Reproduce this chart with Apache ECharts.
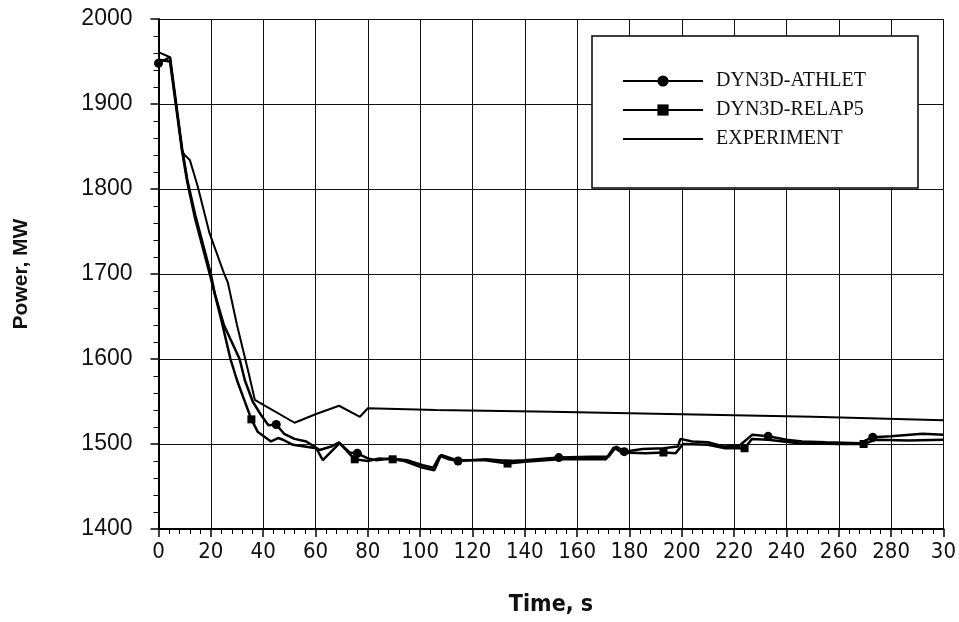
<!DOCTYPE html>
<html>
<head>
<meta charset="utf-8">
<script src="https://cdn.jsdelivr.net/npm/echarts@6/dist/echarts.min.js"></script>
<style>
html,body{margin:0;padding:0;background:#fff;}
#main{width:959px;height:622px;}
</style>
</head>
<body>
<div id="main"></div>
<script>
// DYN3D-ATHLET  (time s, power MW)
var athletT = [0, 4.4, 9, 11, 14, 20, 21.5, 25, 31, 33, 36, 39, 42, 45, 48, 52, 56.5, 61.6, 66, 69, 73, 76, 80, 83, 89, 95, 101, 105, 107.5, 111, 114.5, 125, 134, 140, 153, 165, 172, 175, 178, 185, 193, 198.5, 199.5, 204, 210, 216, 222, 227, 233, 240, 246, 255, 268, 273, 280, 292, 300];
var athletP = [1948, 1955, 1848, 1811, 1770, 1700, 1677, 1640, 1600, 1575, 1550, 1535, 1522, 1523, 1512, 1506, 1503, 1493, 1497, 1502, 1490, 1489, 1483, 1481, 1483, 1481, 1475, 1472, 1486, 1482, 1480, 1482, 1480, 1481, 1484, 1485, 1485, 1497, 1491, 1494, 1495, 1497, 1506, 1503, 1502, 1497, 1498, 1511, 1509, 1505, 1503, 1502, 1501, 1508, 1509, 1512, 1511];
var athletMarks = [0, 45, 76, 114.5, 153, 178, 233, 273];

// DYN3D-RELAP5
var relapT = [0, 4.4, 9, 11, 14, 20, 24, 27.5, 30, 35.5, 38, 43, 45.7, 47.6, 51.4, 60.3, 62.8, 69.2, 75, 80, 84.4, 89.5, 94, 100, 105.4, 108, 114, 125, 133.4, 140, 153, 171, 174, 177, 186, 193, 197.6, 200.5, 210, 216.6, 224, 226.8, 233, 244.6, 260, 269.5, 274, 286.5, 300];
var relapP = [1952, 1950, 1845, 1808, 1765, 1695, 1646, 1600, 1575, 1529, 1514, 1503, 1507, 1505, 1499, 1495, 1481, 1501, 1482, 1480, 1483, 1482, 1480, 1473, 1469, 1487, 1481, 1481, 1477, 1479, 1482, 1482, 1496, 1490, 1489, 1490, 1489, 1500, 1499, 1495, 1495, 1506, 1505, 1501, 1500, 1500, 1505, 1504, 1505];
var relapMarks = [35.5, 75, 89.5, 133.4, 193, 224, 269.5];

// EXPERIMENT
var expT = [0, 4.4, 9, 10, 12, 15, 19.5, 25, 26.5, 30, 34.5, 36.8, 52, 60, 69, 77, 80, 106, 150, 200, 250, 300];
var expP = [1961, 1955, 1845, 1840, 1834, 1803, 1748, 1701, 1690, 1640, 1583, 1552, 1525, 1535, 1545, 1532, 1542, 1540, 1538, 1535, 1532, 1528];

var seriesNames = ['DYN3D-ATHLET', 'DYN3D-RELAP5', 'EXPERIMENT'];

function buildData(ts, ps, marks){
	var d = [];
	for (var i = 0; i < ts.length; i++) {
		var item = {value: [ts[i], ps[i]]};
		if (marks.indexOf(ts[i]) < 0) item.symbol = 'none';
		d.push(item);
	}
	return d;
}

var narrow = 'Liberation Sans Narrow, DejaVu Sans Condensed, Liberation Sans';

var myChart = echarts.init(document.getElementById('main'));
var option = {
	backgroundColor: '#fff',
	animation: false,
	grid: {left: 158.5, right: 13.5, top: 19, bottom: 93},
	legend: {
		orient: 'vertical',
		left: 617,
		top: 66,
		z: 10,
		itemWidth: 80,
		itemHeight: 14,
		itemGap: 9,
		textStyle: {fontFamily: 'Liberation Serif', fontSize: 20, color: '#111', padding: [0, 0, 0, 8]},
		data: [
			{name: seriesNames[0]},
			{name: seriesNames[1]},
			{name: seriesNames[2], itemStyle: {opacity: 0}}
		]
	},
	graphic: [{
		type: 'rect',
		z: 4,
		shape: {x: 592, y: 36, width: 326, height: 152},
		style: {fill: '#fff', stroke: '#000', lineWidth: 1.5}
	}],
	xAxis: {
		type: 'value',
		min: 0, max: 300, interval: 20,
		name: 'Time, s',
		nameLocation: 'middle',
		nameGap: 65,
		nameTextStyle: {fontFamily: narrow, fontSize: 23, fontWeight: 'bold', color: '#111'},
		axisLine: {lineStyle: {color: '#000', width: 2}},
		axisTick: {length: 8, lineStyle: {color: '#000', width: 1.5}},
		minorTick: {show: true, splitNumber: 5, length: 5, lineStyle: {color: '#000', width: 1}},
		axisLabel: {
			margin: 12,
			fontFamily: narrow,
			fontSize: 22, color: '#111',
			formatter: function(v){ return v === 300 ? '30' : String(v); }
		},
		splitLine: {show: true, lineStyle: {color: '#111', width: 1}}
	},
	yAxis: {
		type: 'value',
		min: 1400, max: 2000, interval: 100,
		name: 'Power, MW',
		nameLocation: 'middle',
		nameGap: 127,
		nameTextStyle: {fontFamily: 'Liberation Sans', fontSize: 21, fontWeight: 'bold', color: '#111'},
		axisLine: {show: true, lineStyle: {color: '#000', width: 2}},
		axisTick: {show: true, length: 8, lineStyle: {color: '#000', width: 1.5}},
		minorTick: {show: true, splitNumber: 5, length: 5, lineStyle: {color: '#000', width: 1}},
		axisLabel: {
			margin: 26, fontFamily: 'Liberation Sans', fontSize: 23, color: '#111',
			formatter: function(v){ return String(v); }
		},
		splitLine: {show: true, lineStyle: {color: '#111', width: 1}}
	},
	series: [
		{
			name: seriesNames[0],
			type: 'line',
			symbol: 'circle',
			symbolSize: 9,
			showAllSymbol: true,
			color: '#000',
			lineStyle: {color: '#000', width: 2.5},
			itemStyle: {color: '#000'},
			data: buildData(athletT, athletP, athletMarks),
			z: 3
		},
		{
			name: seriesNames[1],
			type: 'line',
			symbol: 'rect',
			symbolSize: 8,
			showAllSymbol: true,
			color: '#000',
			lineStyle: {color: '#000', width: 2.5},
			itemStyle: {color: '#000'},
			data: buildData(relapT, relapP, relapMarks),
			z: 3
		},
		{
			name: seriesNames[2],
			type: 'line',
			symbol: 'none',
			color: '#000',
			lineStyle: {color: '#000', width: 2},
			data: buildData(expT, expP, []),
			z: 3
		}
	]
};
myChart.setOption(option);
</script>
</body>
</html>
